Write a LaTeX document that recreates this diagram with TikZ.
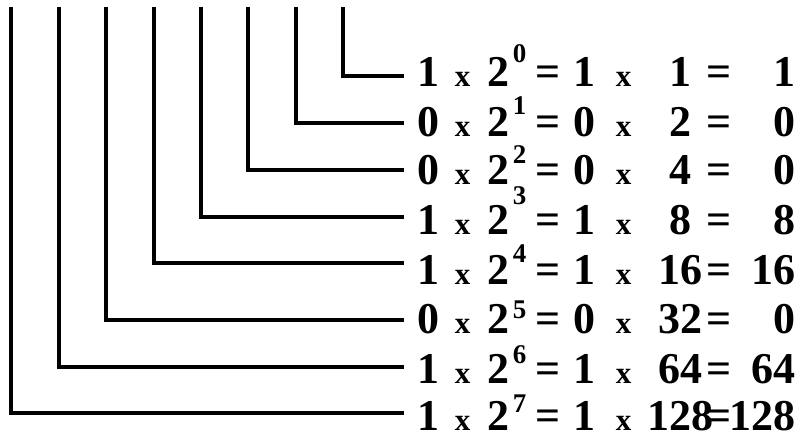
\documentclass[tikz,border=0pt]{standalone}
\usepackage{fontspec}
\setmainfont{Liberation Serif}
\usepackage{xcolor}
\usetikzlibrary{positioning}
\definecolor{ink}{RGB}{0,0,0}
% put #2 centred / right-aligned at #1pt from the start of the row
\newcommand{\putc}[2]{\makebox[0pt][l]{\hspace*{#1pt}\makebox[0pt][c]{#2}}}
\newcommand{\putr}[2]{\makebox[0pt][l]{\hspace*{#1pt}\makebox[0pt][r]{#2}}}
\newcommand{\smallx}{\fontsize{31pt}{31pt}\selectfont x}
% bit, exponent, value, result, raise of exponent, raise of row
\newcommand{\term}[6]{\raisebox{#6pt}{\bfseries\fontsize{44pt}{44pt}\selectfont%
\putc{24}{#1}\putc{58}{\smallx}\putc{94}{2}%
\putc{115}{\raisebox{#5pt}{\fontsize{27pt}{27pt}\selectfont #2}}\putc{143}{=}%
\putc{180}{#1}\putc{219}{\smallx}\putc{276}{#3}\putc{314}{=}\putr{391}{#4}}}

\begin{document}
\begin{tikzpicture}[
x=1pt,y=-1pt,
row/.style={anchor=west,inner sep=0pt,text height=30pt,text depth=0pt,text=ink},
wire/.style={draw=ink,line width=4pt,line join=miter}
]
\useasboundingbox (0,0) rectangle (807,434);
% tops of the bit lines
\coordinate (t0) at (343,7);
\coordinate (t1) at (296,7);
\coordinate (t2) at (248,7);
\coordinate (t3) at (201,7);
\coordinate (t4) at (154,7);
\coordinate (t5) at (106,7);
\coordinate (t6) at (59,7);
\coordinate (t7) at (11,7);
% one row per bit
\node[row] (b0) at (404,76) {\term{1}{0}{1}{1}{24}{5}};
\node[row] (b1) at (404,123) {\term{0}{1}{2}{0}{22}{2}};
\node[row] (b2) at (404,170) {\term{0}{2}{4}{0}{21}{1}};
\node[row] (b3) at (404,217) {\term{1}{3}{8}{8}{30}{-2}};
\node[row] (b4) at (404,263) {\term{1}{4}{16}{16}{22}{-6}};
\node[row] (b5) at (404,320) {\term{0}{5}{32}{0}{15}{2}};
\node[row] (b6) at (404,367) {\term{1}{6}{64}{64}{20}{-1}};
\node[row] (b7) at (404,413) {\term{1}{7}{128}{128}{18}{-2}};
\draw[wire] (t0) |- (b0.west);
\draw[wire] (t1) |- (b1.west);
\draw[wire] (t2) |- (b2.west);
\draw[wire] (t3) |- (b3.west);
\draw[wire] (t4) |- (b4.west);
\draw[wire] (t5) |- (b5.west);
\draw[wire] (t6) |- (b6.west);
\draw[wire] (t7) |- (b7.west);
\end{tikzpicture}
\end{document}
